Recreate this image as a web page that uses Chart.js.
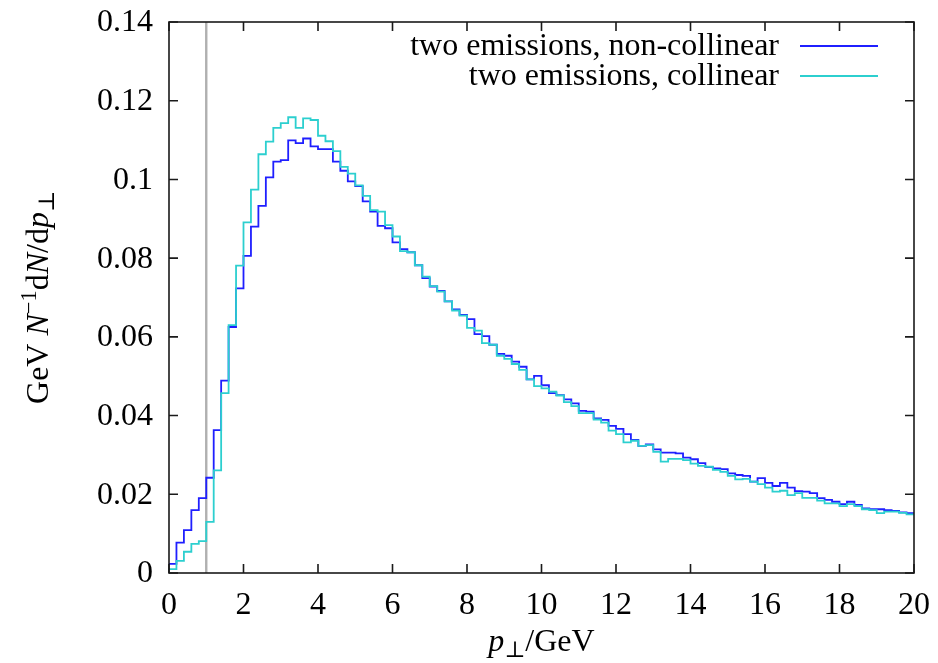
<!DOCTYPE html>
<html><head><meta charset="utf-8">
<script src="https://cdn.jsdelivr.net/npm/chart.js@4/dist/chart.umd.min.js"></script>
<style>html,body{margin:0;padding:0;background:#fff}#wrap{width:938px;height:663px}</style>
</head><body><div id="wrap"><canvas id="c" width="938" height="663"></canvas></div>
<script>
// ---- data ----
const binWidth = 0.2;            // bins of p_perp, 0..20 GeV
const nonCollinear = [
0.0023,0.0077,0.0109,0.0160,0.0190,0.0242,0.0363,0.0489,0.0625,0.0723,
0.0806,0.0880,0.0933,0.1005,0.1045,0.1049,0.1099,0.1092,0.1104,0.1084,
0.1077,0.1077,0.1045,0.1022,0.0995,0.0983,0.0944,0.0918,0.0882,0.0876,
0.0840,0.0823,0.0815,0.0782,0.0749,0.0728,0.0717,0.0690,0.0670,0.0656,
0.0645,0.0607,0.0602,0.0580,0.0557,0.0552,0.0537,0.0524,0.0492,0.0501,
0.0477,0.0457,0.0452,0.0441,0.0431,0.0412,0.0410,0.0393,0.0389,0.0374,
0.0366,0.0353,0.0338,0.0323,0.0327,0.0314,0.0306,0.0306,0.0304,0.0293,
0.0289,0.0279,0.0269,0.0266,0.0264,0.0253,0.0249,0.0247,0.0232,0.0241,
0.0229,0.0221,0.0229,0.0217,0.0208,0.0207,0.0203,0.0190,0.0186,0.0181,
0.0175,0.0181,0.0173,0.0164,0.0162,0.0162,0.0160,0.0158,0.0154,0.0152];
const collinear = [
0.0010,0.0031,0.0054,0.0074,0.0081,0.0130,0.0261,0.0457,0.0630,0.0781,
0.0891,0.0974,0.1064,0.1096,0.1131,0.1143,0.1158,0.1131,0.1155,0.1151,
0.1111,0.1097,0.1072,0.1032,0.1015,0.0985,0.0958,0.0922,0.0918,0.0884,
0.0855,0.0818,0.0815,0.0782,0.0753,0.0729,0.0715,0.0690,0.0667,0.0654,
0.0623,0.0616,0.0584,0.0580,0.0552,0.0544,0.0531,0.0516,0.0492,0.0475,
0.0469,0.0461,0.0451,0.0434,0.0424,0.0406,0.0406,0.0390,0.0382,0.0362,
0.0353,0.0332,0.0336,0.0323,0.0325,0.0308,0.0283,0.0290,0.0290,0.0287,
0.0278,0.0272,0.0270,0.0262,0.0257,0.0247,0.0238,0.0239,0.0232,0.0226,
0.0217,0.0207,0.0209,0.0198,0.0203,0.0191,0.0191,0.0184,0.0177,0.0177,
0.0170,0.0175,0.0170,0.0162,0.0160,0.0152,0.0156,0.0156,0.0153,0.0149];
const seriesNames = ['two emissions, non-collinear', 'two emissions, collinear'];
const seriesColors = ['#1f1fff', '#2ccfcf'];
const cutX = 1.0;                // vertical grey marker line
const xTicks = [0,2,4,6,8,10,12,14,16,18,20];
const xTickLabels = ['0','2','4','6','8','10','12','14','16','18','20'];
const yTicks = [0,0.02,0.04,0.06,0.08,0.10,0.12,0.14];
const yTickLabels = ['0','0.02','0.04','0.06','0.08','0.1','0.12','0.14'];
const xRange = [0, 20];
const yRange = [0, 0.14];

// ---- helpers ----
function toSteps(vals){
  const pts = vals.map((v,i)=>({x:+(i*binWidth).toFixed(6), y:v}));
  pts.push({x:+(vals.length*binWidth).toFixed(6), y:vals[vals.length-1]});
  return pts;
}
const FONT = '"Liberation Serif", "DejaVu Serif", serif';
const FS = 32;

function richWidth(ctx, segs){
  let w = 0;
  for (const s of segs){ ctx.font = segFont(s); w += ctx.measureText(s.t).width; }
  return w;
}
function segFont(s){
  const size = FS*(s.scale||1);
  return (s.italic?'italic ':'') + size + 'px ' + FONT;
}
function drawRich(ctx, segs, x, y){ // x = center, y = baseline
  let cx = x - richWidth(ctx, segs)/2;
  ctx.textAlign = 'left'; ctx.textBaseline = 'alphabetic';
  for (const s of segs){
    ctx.font = segFont(s);
    ctx.fillText(s.t, cx, y + (s.dy||0)*FS);
    cx += ctx.measureText(s.t).width;
  }
}

const framePlugin = {
  id:'frame',
  afterDatasetsDraw(chart){
    const {ctx, chartArea:a, scales:{x, y}} = chart;
    ctx.save();
    ctx.strokeStyle = '#1a1a1a'; ctx.lineWidth = 1.6;
    ctx.strokeRect(a.left, a.top, a.right-a.left, a.bottom-a.top);
    const L = 9;
    ctx.beginPath();
    xTicks.forEach(v=>{
      const px = x.getPixelForValue(v);
      ctx.moveTo(px, a.bottom); ctx.lineTo(px, a.bottom-L);
      ctx.moveTo(px, a.top); ctx.lineTo(px, a.top+L);
    });
    yTicks.forEach(v=>{
      const py = y.getPixelForValue(v);
      ctx.moveTo(a.left, py); ctx.lineTo(a.left+L, py);
      ctx.moveTo(a.right, py); ctx.lineTo(a.right-L, py);
    });
    ctx.stroke();
    ctx.restore();
  },
  afterDraw(chart){
    const {ctx, chartArea:a, scales:{x, y}} = chart;
    ctx.save();
    ctx.fillStyle = '#000';
    ctx.font = FS + 'px ' + FONT;
    // x tick labels
    ctx.textAlign = 'center'; ctx.textBaseline = 'alphabetic';
    xTicks.forEach((v,i)=>{ ctx.fillText(xTickLabels[i], x.getPixelForValue(v), a.bottom + 41); });
    // y tick labels
    ctx.textAlign = 'right'; ctx.textBaseline = 'middle';
    yTicks.forEach((v,i)=>{ ctx.fillText(yTickLabels[i], a.left - 16, y.getPixelForValue(v)+1); });
    // x title
    drawRich(ctx, [{t:'p', italic:true},{t:'⊥', scale:0.7, dy:0.18},{t:'/GeV'}], (a.left+a.right)/2, a.bottom + 78);
    // y title
    ctx.save();
    ctx.translate(48, (a.top+a.bottom)/2);
    ctx.rotate(-Math.PI/2);
    drawRich(ctx, [{t:'GeV '},{t:'N',italic:true},{t:'−1',scale:0.7,dy:-0.38},{t:'d'},{t:'N',italic:true},{t:'/d'},{t:'p',italic:true},{t:'⊥',scale:0.7,dy:0.18}], 0, 0);
    ctx.restore();
    // legend
    ctx.font = FS + 'px ' + FONT;
    ctx.textAlign = 'right'; ctx.textBaseline = 'alphabetic';
    const rows = [46, 76];
    seriesNames.forEach((n,i)=>{
      ctx.fillStyle = '#000';
      ctx.fillText(n, 779, rows[i] + 9);
      ctx.strokeStyle = seriesColors[i]; ctx.lineWidth = 1.8;
      ctx.beginPath(); ctx.moveTo(800, rows[i]); ctx.lineTo(878, rows[i]); ctx.stroke();
    });
    ctx.restore();
  }
};

new Chart(document.getElementById('c'), {
  type:'line',
  data:{ datasets:[
    { label:seriesNames[1], data:toSteps(collinear), borderColor:seriesColors[1], borderWidth:1.8, stepped:'before', pointRadius:0, fill:false, order:1 },
    { label:seriesNames[0], data:toSteps(nonCollinear), borderColor:seriesColors[0], borderWidth:1.8, stepped:'before', pointRadius:0, fill:false, order:2 },
    { label:'cut', data:[{x:cutX, y:yRange[0]},{x:cutX, y:yRange[1]}], borderColor:'#b0b0b0', borderWidth:2.4, pointRadius:0, fill:false, order:3 }
  ]},
  options:{
    responsive:false, animation:false, devicePixelRatio:1,
    layout:{ padding:{ left:169, right:24, top:22, bottom:90 } },
    scales:{
      x:{ type:'linear', min:xRange[0], max:xRange[1], display:false },
      y:{ type:'linear', min:yRange[0], max:yRange[1], display:false }
    },
    plugins:{ legend:{display:false}, tooltip:{enabled:false} }
  },
  plugins:[framePlugin]
});
</script></body></html>
